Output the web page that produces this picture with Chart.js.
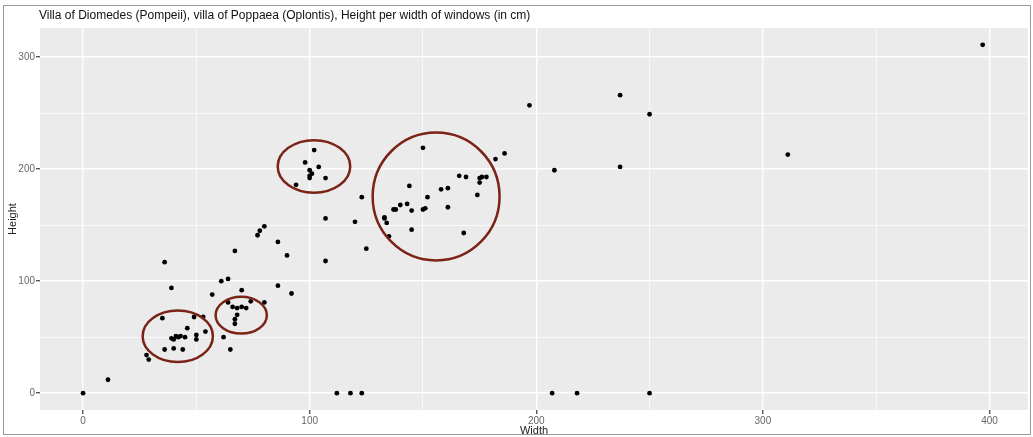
<!DOCTYPE html>
<html>
<head>
<meta charset="utf-8">
<script src="https://cdn.jsdelivr.net/npm/chart.js@4.4.0/dist/chart.umd.min.js"></script>
<style>
body { margin: 0; background: #fff; }
</style>
</head>
<body>
<canvas id="windowsChart" width="1033" height="437"></canvas>
<script>
const chartTitle = 'Villa of Diomedes (Pompeii), villa of Poppaea (Oplontis), Height per width of windows (in cm)';

// window widths and heights (cm)
const widths = [0, 11, 36, 39, 35, 28, 29, 36, 40, 44, 39, 40, 41, 42, 43, 45, 46, 49, 53, 50, 50, 54,
    57, 61, 64, 67, 62, 65, 64, 70, 66, 68, 70, 72, 74, 68, 67, 67, 80, 86, 90, 92, 77, 78, 80, 86,
    102, 98, 104, 100, 101, 100, 100, 107, 94, 123, 107, 120, 125, 107,
    150, 186, 182, 166, 169, 175, 176, 178, 175, 144, 158, 161, 174, 152, 143, 140, 137, 138, 145,
    150, 151, 161, 133, 133, 134, 135, 145, 168,
    197, 237, 250, 237, 208, 397, 311, 112, 118, 123, 207, 218, 250];
const heights = [0, 12, 117, 94, 67, 34, 30, 39, 40, 39, 49, 48, 51, 50, 51, 50, 58, 68, 68, 52, 48, 55,
    88, 100, 102, 127, 50, 39, 81, 92, 77, 76, 77, 76, 82, 70, 66, 62, 81, 96, 123, 89, 141, 145, 149, 135,
    217, 206, 202, 199, 196, 194, 192, 192, 186, 175, 156, 153, 129, 118,
    219, 214, 209, 194, 193, 192, 193, 193, 188, 185, 182, 183, 177, 175, 169, 168, 164, 164, 163,
    164, 165, 166, 157, 156, 152, 140, 146, 143,
    257, 266, 249, 202, 199, 311, 213, 0, 0, 0, 0, 0, 0];

const xTicks = [0, 100, 200, 300, 400];
const yTicks = [0, 100, 200, 300];

// hand-drawn circles, in data units (centre and radii)
const circleX = [41.8, 69.8, 101.9, 155.8];
const circleY = [50.9, 69.6, 202.4, 175.6];
const circleRx = [15.5, 11.3, 16, 28];
const circleRy = [23, 16.4, 23.5, 57.1];

const points = widths.map((w, i) => ({ x: w, y: heights[i] }));

const isMajor = (v, list) => list.includes(v);

const panelPlugin = {
    id: 'panel',
    beforeDraw(chart) {
        const { ctx, chartArea } = chart;
        ctx.save();
        ctx.fillStyle = '#fff';
        ctx.fillRect(0, 0, chart.width, chart.height);
        ctx.strokeStyle = '#9a9a9a';
        ctx.lineWidth = 1;
        ctx.strokeRect(3.5, 5.5, 1027, 429);
        ctx.fillStyle = '#ebebeb';
        ctx.fillRect(chartArea.left, chartArea.top, chartArea.right - chartArea.left, chartArea.bottom - chartArea.top);
        ctx.fillStyle = '#111';
        ctx.font = '12px "Liberation Sans", Arial, sans-serif';
        ctx.textBaseline = 'middle';
        ctx.fillText(chartTitle, 39, 16);
        ctx.restore();
    }
};

const circlePlugin = {
    id: 'circles',
    afterDatasetsDraw(chart) {
        const { ctx, scales } = chart;
        ctx.save();
        ctx.strokeStyle = '#7a2316';
        ctx.lineWidth = 2.5;
        circleX.forEach((cx, i) => {
            const px = scales.x.getPixelForValue(cx);
            const py = scales.y.getPixelForValue(circleY[i]);
            const rx = Math.abs(scales.x.getPixelForValue(cx + circleRx[i]) - px);
            const ry = Math.abs(scales.y.getPixelForValue(circleY[i] + circleRy[i]) - py);
            ctx.beginPath();
            ctx.ellipse(px, py, rx, ry, 0, 0, Math.PI * 2);
            ctx.stroke();
        });
        ctx.restore();
    }
};

new Chart(document.getElementById('windowsChart'), {
    type: 'scatter',
    data: {
        datasets: [{
            data: points,
            backgroundColor: '#000',
            borderColor: '#000',
            pointRadius: 2.4,
            pointBorderWidth: 0
        }]
    },
    options: {
        responsive: false,
        animation: false,
        devicePixelRatio: 1,
        layout: { padding: { top: 28, right: 5, bottom: 0, left: 0 } },
        plugins: {
            legend: { display: false },
            tooltip: { enabled: false }
        },
        scales: {
            x: {
                type: 'linear',
                min: -19,
                max: 417,
                afterFit: (scale) => { scale.height = 27; },
                border: { display: false },
                grid: {
                    color: '#fff',
                    lineWidth: (c) => isMajor(c.tick.value, xTicks) ? 1.4 : 0.7,
                    tickColor: (c) => isMajor(c.tick.value, xTicks) ? '#555' : 'rgba(0,0,0,0)',
                    tickLength: 4
                },
                ticks: {
                    stepSize: 50,
                    includeBounds: false,
                    autoSkip: false,
                    maxRotation: 0,
                    padding: 1,
                    color: '#666',
                    font: { size: 10, family: '"Liberation Sans", Arial, sans-serif' },
                    callback: (v) => isMajor(v, xTicks) ? v : ''
                },
                title: {
                    display: true,
                    text: 'Width',
                    color: '#222',
                    padding: { top: 0, bottom: -1 },
                    font: { size: 11, family: '"Liberation Sans", Arial, sans-serif' }
                }
            },
            y: {
                type: 'linear',
                min: -15,
                max: 326,
                afterFit: (scale) => { scale.width = 40; },
                border: { display: false },
                grid: {
                    color: '#fff',
                    lineWidth: (c) => isMajor(c.tick.value, yTicks) ? 1.4 : 0.7,
                    tickColor: (c) => isMajor(c.tick.value, yTicks) ? '#555' : 'rgba(0,0,0,0)',
                    tickLength: 4
                },
                ticks: {
                    stepSize: 50,
                    includeBounds: false,
                    autoSkip: false,
                    padding: 1,
                    color: '#666',
                    font: { size: 10, family: '"Liberation Sans", Arial, sans-serif' },
                    callback: (v) => isMajor(v, yTicks) ? v : ''
                },
                title: {
                    display: true,
                    text: 'Height',
                    color: '#222',
                    padding: { top: 6, bottom: 0 },
                    font: { size: 11, family: '"Liberation Sans", Arial, sans-serif' }
                }
            }
        }
    },
    plugins: [panelPlugin, circlePlugin]
});
</script>
</body>
</html>
